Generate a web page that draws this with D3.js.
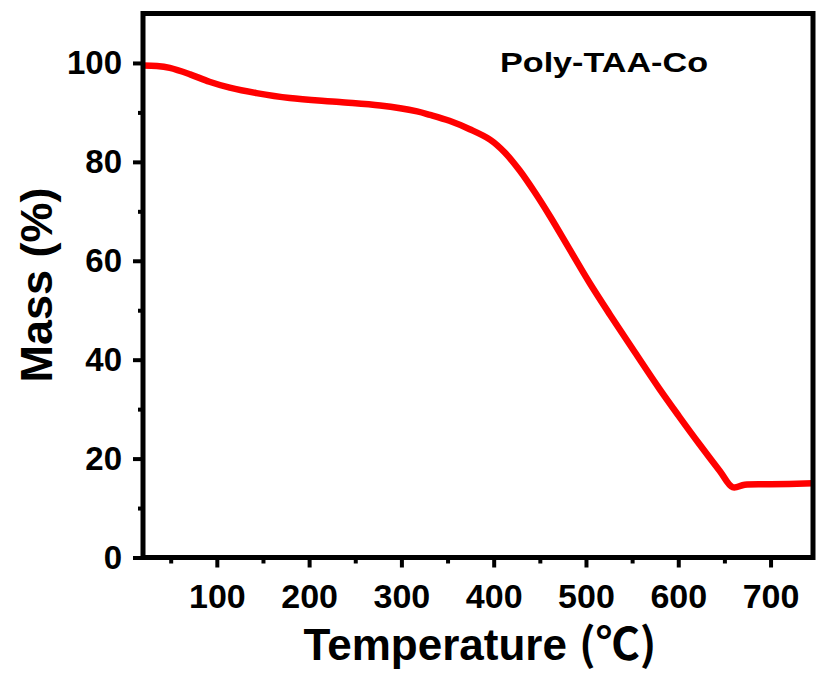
<!DOCTYPE html>
<html>
<head>
<meta charset="utf-8">
<script src="https://cdn.jsdelivr.net/npm/d3@7"></script>
<style>
  html, body { margin: 0; padding: 0; background: #fff; }
  svg { display: block; font-family: "Liberation Sans", Arial, sans-serif; }
</style>
</head>
<body>
<svg id="chart" width="817" height="675"></svg>
<script>
// TGA curve: temperature (°C) vs residual mass (%)
const temperature = [20, 35, 49, 71, 92, 114, 143, 179, 233, 277, 317, 331, 352, 374, 396, 412, 428, 444, 461, 482, 504, 526, 553, 580, 601, 623, 645, 659, 672, 700, 746];
const mass        = [99.5, 99.4, 99.0, 97.7, 96.2, 95.0, 93.9, 92.9, 92.1, 91.4, 90.2, 89.5, 88.3, 86.6, 84.5, 81.9, 78.3, 74.0, 69.0, 62.4, 55.5, 49.1, 41.5, 34.0, 28.5, 22.9, 17.5, 14.2, 14.7, 14.8, 15.0];

const xMajorTicks = [100, 200, 300, 400, 500, 600, 700];
const xMinorTicks = [50, 150, 250, 350, 450, 550, 650];
const yMajorTicks = [0, 20, 40, 60, 80, 100];
const yMinorTicks = [10, 30, 50, 70, 90];

const sampleName = "Poly-TAA-Co";
const xTitle = "Temperature ";
const xUnit = "(℃)";
const yTitle = "Mass (%)";

const svg = d3.select("#chart");
const plotLeft = 143, plotRight = 813, plotTop = 13.5, plotBottom = 557.5;

const x = d3.scaleLinear().domain([20, 746]).range([plotLeft, plotRight]);
const y = d3.scaleLinear().domain([0, 110]).range([plotBottom, plotTop]);

// curve
const line = d3.line()
  .x((d, i) => x(temperature[i]))
  .y((d, i) => y(mass[i]))
  .curve(d3.curveCatmullRom.alpha(0.5));

svg.append("path")
  .datum(mass)
  .attr("d", line)
  .attr("fill", "none")
  .attr("stroke", "#ff0000")
  .attr("stroke-width", 6.5)
  .attr("stroke-linejoin", "round");

// frame
svg.append("rect")
  .attr("x", plotLeft).attr("y", plotTop)
  .attr("width", plotRight - plotLeft).attr("height", plotBottom - plotTop)
  .attr("fill", "none").attr("stroke", "#000").attr("stroke-width", 5);

// bottom axis
const xAxis = d3.axisBottom(x).tickValues(xMajorTicks).tickSize(10).tickPadding(16).tickSizeOuter(0);
const gx = svg.append("g").attr("transform", `translate(0,${plotBottom})`).call(xAxis);
gx.select(".domain").remove();
gx.selectAll(".tick line").attr("stroke", "#000").attr("stroke-width", 4);
gx.selectAll(".tick text")
  .attr("font-size", 34).attr("font-weight", "bold")
  .attr("font-family", "'Liberation Sans', Arial, sans-serif").attr("fill", "#000");

const xMinor = d3.axisBottom(x).tickValues(xMinorTicks).tickSize(6).tickFormat("").tickSizeOuter(0);
const gxm = svg.append("g").attr("transform", `translate(0,${plotBottom})`).call(xMinor);
gxm.select(".domain").remove();
gxm.selectAll(".tick line").attr("stroke", "#000").attr("stroke-width", 4);

// left axis
const yAxis = d3.axisLeft(y).tickValues(yMajorTicks).tickSize(10).tickPadding(11).tickSizeOuter(0);
const gy = svg.append("g").attr("transform", `translate(${plotLeft},0)`).call(yAxis);
gy.select(".domain").remove();
gy.selectAll(".tick line").attr("stroke", "#000").attr("stroke-width", 4);
gy.selectAll(".tick text")
  .attr("font-size", 33).attr("font-weight", "bold")
  .attr("font-family", "'Liberation Sans', Arial, sans-serif").attr("fill", "#000");

const yMinor = d3.axisLeft(y).tickValues(yMinorTicks).tickSize(5).tickFormat("").tickSizeOuter(0);
const gym = svg.append("g").attr("transform", `translate(${plotLeft},0)`).call(yMinor);
gym.select(".domain").remove();
gym.selectAll(".tick line").attr("stroke", "#000").attr("stroke-width", 4);

// axis titles
const xt = svg.append("text")
  .attr("x", 480).attr("y", 660)
  .attr("text-anchor", "middle")
  .attr("font-size", 44).attr("font-weight", "bold").attr("fill", "#000");
xt.append("tspan").text(xTitle);
xt.append("tspan").attr("font-family", "'Noto Sans CJK SC', serif").attr("font-weight", "bold").text(xUnit);

svg.append("text")
  .attr("transform", "translate(52,285) rotate(-90)")
  .attr("text-anchor", "middle")
  .attr("font-size", 45).attr("font-weight", "bold").attr("fill", "#000")
  .text(yTitle);

// sample label
svg.append("text")
  .attr("x", 500).attr("y", 72)
  .attr("font-size", 28).attr("font-weight", "bold").attr("fill", "#000")
  .attr("textLength", 208).attr("lengthAdjust", "spacingAndGlyphs")
  .text(sampleName);
</script>
</body>
</html>
